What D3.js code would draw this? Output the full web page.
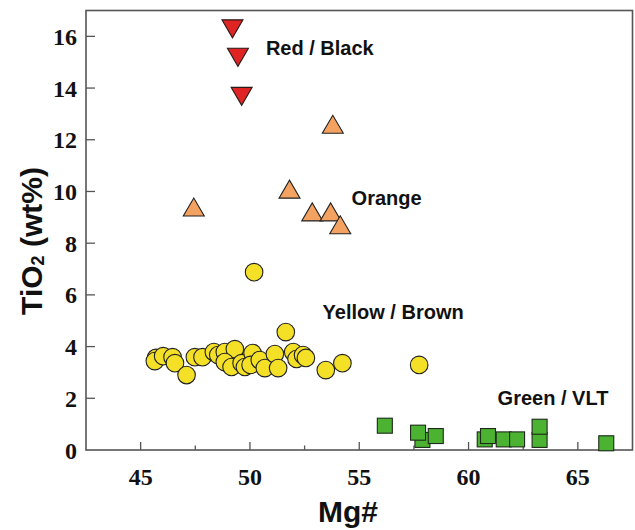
<!DOCTYPE html>
<html>
<head>
<meta charset="utf-8">
<script src="https://cdn.jsdelivr.net/npm/d3@7"></script>
<style>
  body { margin: 0; background: #fff; }
  svg { display: block; }
  .tick-label { font-family: "Liberation Serif", "Times New Roman", serif; font-weight: bold; font-size: 24px; fill: #111; }
  .group-label { font-family: "Liberation Sans", Arial, sans-serif; font-weight: bold; font-size: 20px; fill: #111; }
  .axis-title { font-family: "Liberation Sans", Arial, sans-serif; font-weight: bold; fill: #111; }
</style>
</head>
<body>
<svg id="chart" width="635" height="530"></svg>
<script>
// Data: [Mg#, TiO2 wt%]
const redBlack = [[49.20, 16.29], [49.45, 15.19], [49.62, 13.68]];
const orange = [[47.43, 9.40], [51.81, 10.09], [52.85, 9.21], [53.69, 9.21], [54.13, 8.71], [53.79, 12.60]];
const yellowBrown = [
  [45.70, 3.56], [45.65, 3.44], [46.03, 3.63], [46.46, 3.59], [46.57, 3.36], [47.10, 2.90],
  [47.48, 3.59], [47.83, 3.59], [48.35, 3.79], [48.55, 3.67], [48.85, 3.79], [49.31, 3.90],
  [48.85, 3.40], [49.16, 3.21], [49.62, 3.36], [49.77, 3.21], [50.12, 3.75], [50.03, 3.29],
  [50.45, 3.48], [50.68, 3.17], [51.14, 3.71], [51.29, 3.17], [51.64, 4.56], [51.98, 3.79],
  [52.13, 3.52], [52.43, 3.67], [52.56, 3.56], [53.47, 3.09], [54.23, 3.36], [57.74, 3.29],
  [50.19, 6.88]
];
const greenVLT = [
  [56.17, 0.94], [57.89, 0.39], [57.69, 0.67], [58.50, 0.54], [60.74, 0.41], [60.89, 0.54],
  [61.61, 0.41], [62.22, 0.41], [63.25, 0.39], [63.25, 0.90], [66.30, 0.26]
];
const xTicks = [45, 50, 55, 60, 65];
const xMinorTicks = [47.5, 52.5, 57.5, 62.5];
const yTicks = [0, 2, 4, 6, 8, 10, 12, 14, 16];
// label anchor = start of text, on the baseline
const groupLabels = [
  { text: "Red / Black", x: 50.73, y: 15.28 },
  { text: "Orange", x: 54.65, y: 9.46 },
  { text: "Yellow / Brown", x: 53.32, y: 5.06 },
  { text: "Green / VLT", x: 61.33, y: 1.74 }
];

const margin = { top: 10.5, right: 2.5, bottom: 80, left: 86 };
const W = 635, H = 530;
const svg = d3.select("#chart");

const x = d3.scaleLinear().domain([42.5, 67.5]).range([margin.left, W - margin.right]);
const y = d3.scaleLinear().domain([0, 17]).range([H - margin.bottom, margin.top]);

const frameColor = "#555";

// Inward ticks
const g = svg.append("g");
g.selectAll("line.xmaj").data(xTicks).enter().append("line")
  .attr("x1", d => x(d)).attr("x2", d => x(d))
  .attr("y1", y(0)).attr("y2", y(0) - 8)
  .attr("stroke", frameColor).attr("stroke-width", 1.3);
g.selectAll("line.xmin").data(xMinorTicks).enter().append("line")
  .attr("x1", d => x(d)).attr("x2", d => x(d))
  .attr("y1", y(0)).attr("y2", y(0) - 4.5)
  .attr("stroke", frameColor).attr("stroke-width", 1.3);
g.selectAll("line.ymaj").data(yTicks.slice(1)).enter().append("line")
  .attr("x1", x(42.5)).attr("x2", x(42.5) + 9)
  .attr("y1", d => y(d)).attr("y2", d => y(d))
  .attr("stroke", frameColor).attr("stroke-width", 1.3);

// Tick labels
g.selectAll("text.xl").data(xTicks).enter().append("text")
  .attr("class", "tick-label")
  .attr("x", d => x(d)).attr("y", y(0) + 35)
  .attr("text-anchor", "middle")
  .text(d => d);
g.selectAll("text.yl").data(yTicks).enter().append("text")
  .attr("class", "tick-label")
  .attr("x", x(42.5) - 9).attr("y", d => y(d) + 8.5)
  .attr("text-anchor", "end")
  .text(d => d);

// Frame
svg.append("rect")
  .attr("x", x(42.5)).attr("y", y(17))
  .attr("width", x(67.5) - x(42.5)).attr("height", y(0) - y(17))
  .attr("fill", "none").attr("stroke", frameColor).attr("stroke-width", 1.6);

// Markers
const pts = svg.append("g");

pts.selectAll("path.red").data(redBlack).enter().append("path")
  .attr("d", d => {
    const cx = x(d[0]), cy = y(d[1]), hw = 10.5, hh = 9;
    return `M${cx - hw},${cy - hh}L${cx + hw},${cy - hh}L${cx},${cy + hh}Z`;
  })
  .attr("fill", "#e02424").attr("stroke", "#2a1a1a").attr("stroke-width", 1.1);

pts.selectAll("path.orange").data(orange).enter().append("path")
  .attr("d", d => {
    const cx = x(d[0]), cy = y(d[1]), hw = 10.5, hh = 9;
    return `M${cx - hw},${cy + hh}L${cx + hw},${cy + hh}L${cx},${cy - hh}Z`;
  })
  .attr("fill", "#f4a261").attr("stroke", "#222").attr("stroke-width", 1.1);

pts.selectAll("circle.yellow").data(yellowBrown).enter().append("circle")
  .attr("cx", d => x(d[0])).attr("cy", d => y(d[1])).attr("r", 8.8)
  .attr("fill", "#f4e027").attr("stroke", "#222").attr("stroke-width", 1.1);

pts.selectAll("rect.green").data(greenVLT).enter().append("rect")
  .attr("x", d => x(d[0]) - 7.5).attr("y", d => y(d[1]) - 7.5)
  .attr("width", 15).attr("height", 15)
  .attr("fill", "#4bb232").attr("stroke", "#1d2a1a").attr("stroke-width", 1.1);

// Group labels
svg.selectAll("text.group").data(groupLabels).enter().append("text")
  .attr("class", "group-label")
  .attr("x", d => x(d.x)).attr("y", d => y(d.y))
  .attr("text-anchor", "start")
  .text(d => d.text);

// Axis titles
svg.append("text")
  .attr("class", "axis-title")
  .attr("x", 348).attr("y", 522)
  .attr("text-anchor", "middle")
  .attr("font-size", 30)
  .text("Mg#");

const yt = svg.append("text")
  .attr("class", "axis-title")
  .attr("transform", "translate(42,241) rotate(-90)")
  .attr("text-anchor", "middle")
  .attr("font-size", 30);
yt.append("tspan").text("TiO");
yt.append("tspan").attr("font-size", 18).attr("dy", 2).text("2");
yt.append("tspan").attr("dy", -2).text(" (wt%)");
</script>
</body>
</html>
